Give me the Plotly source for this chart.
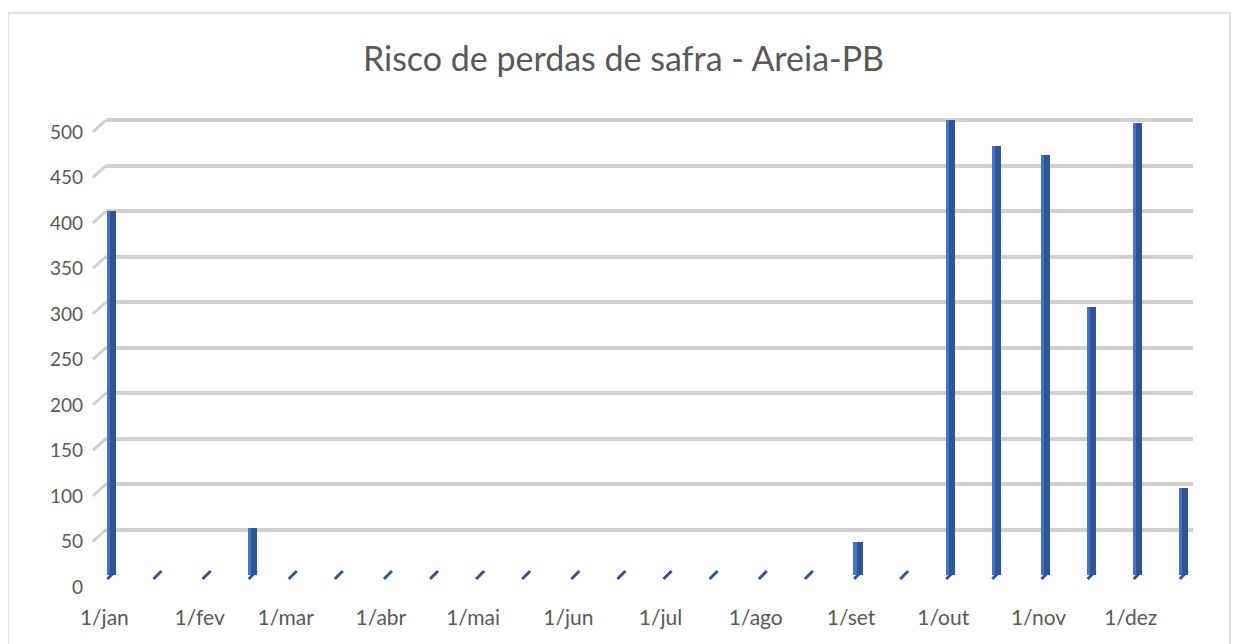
import plotly.graph_objects as go

# data: risk of crop loss, sampled on the 1st and 16th of each month
datas = [
    "2021-01-01", "2021-01-16", "2021-02-01", "2021-02-16",
    "2021-03-01", "2021-03-16", "2021-04-01", "2021-04-16",
    "2021-05-01", "2021-05-16", "2021-06-01", "2021-06-16",
    "2021-07-01", "2021-07-16", "2021-08-01", "2021-08-16",
    "2021-09-01", "2021-09-16", "2021-10-01", "2021-10-16",
    "2021-11-01", "2021-11-16", "2021-12-01", "2021-12-16",
]
risco = [400, 0, 0, 52, 0, 0, 0, 0, 0, 0, 0, 0,
         0, 0, 0, 0, 36, 0, 500, 472, 462, 295, 497, 96]

mes_vals = ["2021-01-01", "2021-02-01", "2021-03-01", "2021-04-01",
            "2021-05-01", "2021-06-01", "2021-07-01", "2021-08-01",
            "2021-09-01", "2021-10-01", "2021-11-01", "2021-12-01"]
mes_text = ["1/jan", "1/fev", "1/mar", "1/abr", "1/mai", "1/jun",
            "1/jul", "1/ago", "1/set", "1/out", "1/nov", "1/dez"]
y_ticks = list(range(0, 501, 50))

DAY = 86400000
FONT = "Lato"
GRAY = "#595959"

fig = go.Figure()

# lighter side face + darker front face gives the flat 3D column look
fig.add_trace(go.Bar(
    x=datas, y=risco, width=[3 * DAY] * len(datas),
    marker=dict(color="#4472C4", line=dict(width=0)),
    hoverinfo="skip", showlegend=False,
))
fig.add_trace(go.Bar(
    x=datas, y=risco, width=[2 * DAY] * len(datas), offset=-0.5 * DAY,
    marker=dict(color="#2F5597", line=dict(width=0)),
    hovertemplate="%{x|%d/%m}: %{y}<extra></extra>", showlegend=False,
))
# small slanted base of every column (visible where value is 0)
fig.add_trace(go.Scatter(
    x=datas, y=[0] * len(datas), mode="markers",
    marker=dict(symbol="line-ne", size=8, color="#2F5597",
                line=dict(color="#2F5597", width=3)),
    hoverinfo="skip", showlegend=False, cliponaxis=False,
))

# front-to-back stubs on the left end of each gridline
for v in y_ticks:
    fig.add_shape(type="line", xref="paper", yref="y",
                  x0=-0.012, y0=v - 13, x1=0.0, y1=v,
                  line=dict(color="#d0d0d0", width=3), layer="below")

# outer chart border
fig.add_shape(type="rect", xref="paper", yref="paper",
              x0=-0.0902, y0=-0.2, x1=1.034, y1=1.211,
              line=dict(color="#d9d9d9", width=1.5))

# page body has an 8px margin, so the figure is 8px smaller and margins offset
fig.update_layout(
    title=dict(text="Risco de perdas de safra - Areia-PB",
               x=0.5, xref="container", y=0.92, yref="container",
               yanchor="middle",
               font=dict(family=FONT, size=34, color=GRAY)),
    width=1231, height=636,
    margin=dict(l=98, r=46, t=103, b=69),
    paper_bgcolor="white", plot_bgcolor="white",
    barmode="overlay", bargap=0,
    font=dict(family=FONT, color=GRAY),
)
fig.update_xaxes(
    type="date",
    range=["2020-12-30 06:00", "2021-12-19"],
    tickvals=mes_vals, ticktext=mes_text,
    tickfont=dict(family=FONT, size=21, color=GRAY),
    showgrid=False, zeroline=False, showline=False, ticks="",
    ticklabelstandoff=28, ticklabelshift=-7,
)
fig.update_yaxes(
    range=[0, 510], tickvals=y_ticks,
    tickfont=dict(family=FONT, size=19, color=GRAY),
    showgrid=True, gridcolor="#d0d0d0", gridwidth=4,
    zeroline=False, showline=False, ticks="",
    ticklabelstandoff=22, ticklabelshift=12,
)

fig.write_html("out.html")
